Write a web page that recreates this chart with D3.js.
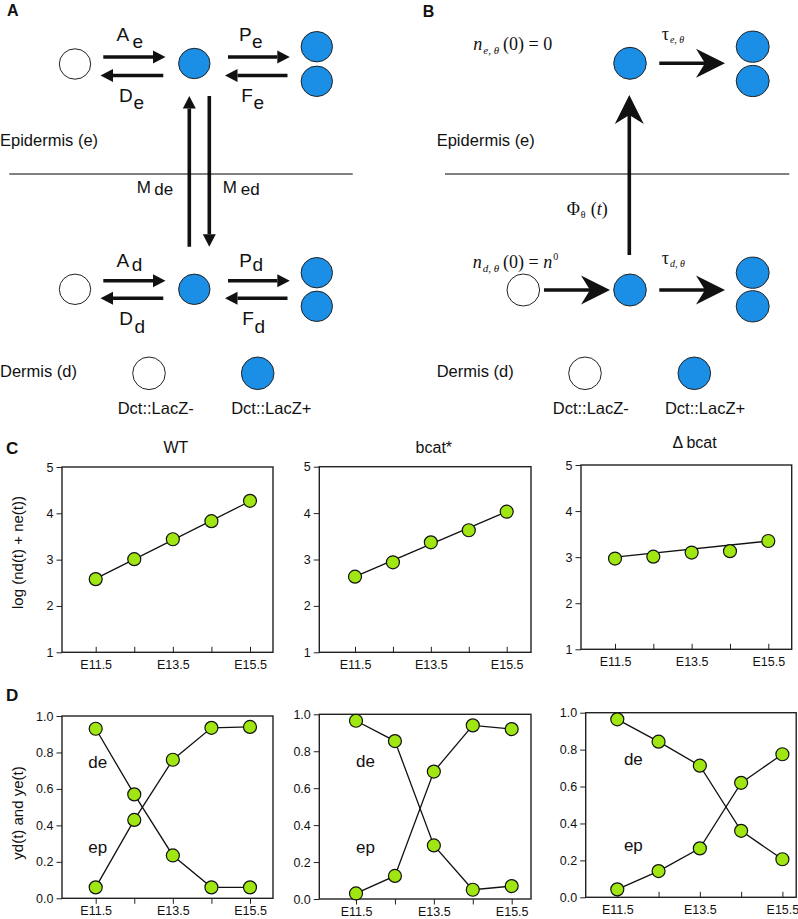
<!DOCTYPE html>
<html>
<head>
<meta charset="utf-8">
<script src="https://cdn.jsdelivr.net/npm/d3@7"></script>
<style>
  html, body { margin: 0; padding: 0; background: #fff; }
  svg { display: block; }
  text { font-family: "Liberation Sans", Arial, Helvetica, sans-serif; fill: #111; }
  .math { font-family: "Liberation Serif", "Times New Roman", serif; }
</style>
</head>
<body>
<svg id="fig" width="798" height="919"></svg>
<script>
// ---------------- DATA ----------------
const timepoints = ["E11.5", "E12.5", "E13.5", "E14.5", "E15.5"];
const xTickLabels = ["E11.5", "", "E13.5", "", "E15.5"];
const conditions = ["WT", "bcat*", "\u0394\u2009bcat"];

// Panel C: log (nd(t) + ne(t))
const totalWT    = [2.58, 3.01, 3.44, 3.83, 4.27];
const totalBcat  = [2.63, 2.94, 3.37, 3.63, 4.03];
const totalDbcat = [2.97, 3.01, 3.10, 3.13, 3.35];
// fitted straight lines (value at E11.5, value at E15.5)
const fitWT    = [2.59, 4.26];
const fitBcat  = [2.63, 4.03];
const fitDbcat = [3.00, 3.35];
const yTicksC = [1, 2, 3, 4, 5];

// Panel D: yd(t) and ye(t)
const deWT    = [0.93, 0.57, 0.235, 0.06, 0.06];
const epWT    = [0.06, 0.43, 0.76, 0.935, 0.94];
const deBcat  = [0.965, 0.855, 0.29, 0.05, 0.07];
const epBcat  = [0.03, 0.125, 0.69, 0.94, 0.92];
const deDbcat = [0.964, 0.843, 0.713, 0.36, 0.206];
const epDbcat = [0.043, 0.142, 0.265, 0.62, 0.775];
const yTicksD = [0, 0.2, 0.4, 0.6, 0.8, 1.0];
const seriesLabels = ["de", "ep"];

// ---------------- STYLE ----------------
const BLUE = "#1b8fe6";
const GREEN = "#9fe612";
const INK = "#111";
const SANS = "'Liberation Sans', Arial, Helvetica, sans-serif";

const svg = d3.select("#fig");

function txt(x, y, s, opt = {}) {
  const t = svg.append("text").attr("x", x).attr("y", y).text(s)
    .attr("font-size", opt.size || 16);
  if (opt.anchor) t.attr("text-anchor", opt.anchor);
  if (opt.weight) t.attr("font-weight", opt.weight);
  if (opt.cls) t.attr("class", opt.cls);
  if (opt.italic) t.attr("font-style", "italic");
  return t;
}

function cell(cx, cy, fill, rx = 15.7, ry = 15.2) {
  svg.append("ellipse").attr("cx", cx).attr("cy", cy).attr("rx", rx).attr("ry", ry)
    .attr("fill", fill).attr("stroke", "#222").attr("stroke-width", 1);
}

// simple arrow (panel A)
function arrowA(x1, y1, x2, y2) {
  const L = 12.5, W = 6.5;
  const ang = Math.atan2(y2 - y1, x2 - x1);
  const bx = x2 - L * Math.cos(ang), by = y2 - L * Math.sin(ang);
  svg.append("line").attr("x1", x1).attr("y1", y1).attr("x2", bx).attr("y2", by)
    .attr("stroke", INK).attr("stroke-width", 3.6);
  const px = -Math.sin(ang), py = Math.cos(ang);
  svg.append("path")
    .attr("d", `M${x2},${y2} L${bx + px * W},${by + py * W} L${bx - px * W},${by - py * W} Z`)
    .attr("fill", INK);
}

// stealth arrow (panel B)
function arrowB(x1, y1, x2, y2) {
  const L = 29, W = 14.5, N = 9;
  const ang = Math.atan2(y2 - y1, x2 - x1);
  const c = Math.cos(ang), s = Math.sin(ang);
  const px = -s, py = c;
  const bx = x2 - L * c, by = y2 - L * s;
  const nx = x2 - (L - N) * c, ny = y2 - (L - N) * s;
  svg.append("line").attr("x1", x1).attr("y1", y1).attr("x2", nx).attr("y2", ny)
    .attr("stroke", INK).attr("stroke-width", 3.6);
  svg.append("path")
    .attr("d", `M${x2},${y2} L${bx + px * W},${by + py * W} L${nx},${ny} L${bx - px * W},${by - py * W} Z`)
    .attr("fill", INK);
}

function hline(x1, x2, y) {
  svg.append("line").attr("x1", x1).attr("x2", x2).attr("y1", y).attr("y2", y)
    .attr("stroke", "#000").attr("stroke-width", 1);
}

// ---------------- PANEL A ----------------
txt(7, 16, "A", { size: 16, weight: "bold" });
// epidermis row
cell(75, 64, "#fff");
cell(194.3, 63.5, BLUE);
cell(316.8, 46.7, BLUE); cell(316.8, 81.3, BLUE);
arrowA(103.3, 57, 165.5, 57);
arrowA(163.3, 75.5, 100.5, 75.5);
arrowA(228, 57, 289.8, 57);
arrowA(287.5, 75.5, 225, 75.5);
txt(116.5, 40.7, "A", { size: 19 }); txt(132.5, 47.5, "e", { size: 19 });
txt(239, 40.7, "P", { size: 19 });   txt(252, 47.5, "e", { size: 19 });
txt(119, 101.7, "D", { size: 19 });  txt(133.5, 109.3, "e", { size: 19 });
txt(241.2, 101.7, "F", { size: 19 }); txt(253.5, 109.3, "e", { size: 19 });
// migration arrows
arrowA(189.3, 246.7, 189.3, 96);
arrowA(209.3, 96, 209.3, 246.7);
txt(0, 145.7, "Epidermis (e)", { size: 16.5 });
hline(9.3, 352.7, 174);
txt(136.7, 193.3, "M", { size: 17 }); txt(154.3, 194.5, "de", { size: 17 });
txt(222.7, 193.3, "M", { size: 17 }); txt(240.8, 194.5, "ed", { size: 17 });
// dermis row
cell(75, 289.3, "#fff");
cell(194.3, 289.3, BLUE);
cell(316.8, 272.7, BLUE); cell(316.8, 306.3, BLUE);
arrowA(103.3, 280.7, 165.5, 280.7);
arrowA(163.3, 298.3, 100.5, 298.3);
arrowA(228, 280.7, 289.8, 280.7);
arrowA(287.5, 298.3, 225, 298.3);
txt(116.5, 266.7, "A", { size: 19 }); txt(131.7, 270.7, "d", { size: 19 });
txt(239.3, 266.7, "P", { size: 19 }); txt(252.5, 270.7, "d", { size: 19 });
txt(119.3, 325, "D", { size: 19 });   txt(134.5, 333, "d", { size: 19 });
txt(242.2, 325, "F", { size: 19 });   txt(254.5, 333, "d", { size: 19 });
txt(0, 377.3, "Dermis (d)", { size: 16.5 });
cell(149, 373.3, "#fff", 16.3, 16.3);
cell(257.7, 373.3, BLUE, 16.3, 16.3);
txt(155.7, 413.5, "Dct::LacZ-", { size: 16.5, anchor: "middle" });
txt(271.3, 413.5, "Dct::LacZ+", { size: 16.5, anchor: "middle" });

// ---------------- PANEL B ----------------
txt(422.7, 16.7, "B", { size: 16, weight: "bold" });
// top row
{
  const t = txt(473.3, 50, "", { size: 18, cls: "math" });
  t.append("tspan").attr("font-style", "italic").text("n");
  t.append("tspan").attr("font-style", "italic").attr("font-size", 11).attr("dy", 3.5).attr("dx", 1).text("e, \u03b8");
  t.append("tspan").attr("dy", -3.5).attr("dx", 4).text("(0) = 0");
}
cell(630, 63.3, BLUE, 16.3, 16);
arrowB(659.3, 63.3, 725, 63.3);
{
  const t = txt(661.7, 40, "", { size: 18, cls: "math" });
  t.append("tspan").text("\u03c4");
  t.append("tspan").attr("font-style", "italic").attr("font-size", 10).attr("dy", 3).attr("dx", 1).text("e, \u03b8");
}
cell(752.7, 46.7, BLUE, 16.5, 15.6); cell(752.7, 81, BLUE, 16.5, 15.6);
arrowB(629.3, 255, 629.3, 95);
txt(436.7, 145.7, "Epidermis (e)", { size: 16.5 });
hline(445, 789.3, 174);
{
  const t = txt(566.7, 215, "", { size: 18, cls: "math" });
  t.append("tspan").text("\u03a6");
  t.append("tspan").attr("font-size", 10).attr("dy", 2.5).attr("dx", 1).text("\u03b8");
  t.append("tspan").attr("dy", -2.5).attr("dx", 5).text("(");
  t.append("tspan").attr("font-style", "italic").text("t");
  t.append("tspan").text(")");
}
// bottom row
{
  const t = txt(472.7, 268, "", { size: 18, cls: "math" });
  t.append("tspan").attr("font-style", "italic").text("n");
  t.append("tspan").attr("font-style", "italic").attr("font-size", 11).attr("dy", 3.5).attr("dx", 1).text("d, \u03b8");
  t.append("tspan").attr("dy", -3.5).attr("dx", 4).text("(0) = ");
  t.append("tspan").attr("font-style", "italic").text("n");
  t.append("tspan").attr("font-size", 10).attr("dy", -8).attr("dx", 1).text("0");
}
cell(523.3, 290, "#fff", 16.3, 16);
arrowB(544, 290, 610, 290);
cell(630, 290, BLUE, 16.3, 16);
arrowB(659.3, 290, 725, 290);
{
  const t = txt(661.7, 264, "", { size: 18, cls: "math" });
  t.append("tspan").text("\u03c4");
  t.append("tspan").attr("font-style", "italic").attr("font-size", 10).attr("dy", 3).attr("dx", 1).text("d, \u03b8");
}
cell(752.7, 272.7, BLUE, 16.5, 15.6); cell(752.7, 306.3, BLUE, 16.5, 15.6);
txt(436.7, 377.3, "Dermis (d)", { size: 16.5 });
cell(585, 373.3, "#fff", 16.3, 16.3);
cell(694.3, 373.3, BLUE, 16.3, 16.3);
txt(590.8, 413.5, "Dct::LacZ-", { size: 16.5, anchor: "middle" });
txt(705, 413.5, "Dct::LacZ+", { size: 16.5, anchor: "middle" });

// ---------------- PANELS C & D (charts) ----------------
function plot(box, yDomain, yTicks, yFmt, xTickIn) {
  const g = svg.append("g");
  const x = d3.scaleLinear().domain([1, timepoints.length])
    .range([box.x + box.padL, box.x + box.w - box.padR]);
  const y = d3.scaleLinear().domain(yDomain).range([box.y + box.h, box.y]);

  const xa = d3.axisBottom(x).tickValues(d3.range(1, timepoints.length + 1))
    .tickFormat((d, i) => xTickLabels[i])
    .tickSizeInner(xTickIn ? -5.5 : 5.5).tickSizeOuter(0)
    .tickPadding(xTickIn ? 7.5 : 2.5);
  const gx = g.append("g").attr("transform", `translate(0,${box.y + box.h})`).call(xa);
  gx.select(".domain").remove();
  gx.selectAll("text").attr("font-size", 12.5).attr("font-family", SANS).attr("fill", INK);
  gx.selectAll("line").attr("stroke", "#222").attr("stroke-width", 1);

  const ya = d3.axisLeft(y).tickValues(yTicks).tickFormat(d3.format(yFmt))
    .tickSizeInner(5.5).tickSizeOuter(0).tickPadding(3);
  const gy = g.append("g").attr("transform", `translate(${box.x},0)`).call(ya);
  gy.select(".domain").remove();
  gy.selectAll("text").attr("font-size", 12.5).attr("font-family", SANS).attr("fill", INK);
  gy.selectAll("line").attr("stroke", "#222").attr("stroke-width", 1);

  g.append("rect").attr("x", box.x).attr("y", box.y).attr("width", box.w).attr("height", box.h)
    .attr("fill", "none").attr("stroke", "#222").attr("stroke-width", 1.4);
  return { g, x, y };
}

function dots(p, vals) {
  p.g.append("g").selectAll("circle").data(vals).join("circle")
    .attr("cx", (d, i) => p.x(i + 1)).attr("cy", d => p.y(d)).attr("r", 6.5)
    .attr("fill", GREEN).attr("stroke", INK).attr("stroke-width", 1.2);
}

// Panel C
txt(6, 454, "C", { size: 17, weight: "bold" });
const boxesC = [
  { x: 62, y: 467, w: 211, h: 185.3, padL: 33.7, padR: 23 },
  { x: 319.3, y: 466.7, w: 211.7, h: 185.6, padL: 35.7, padR: 24.3 },
  { x: 581, y: 465, w: 210.7, h: 184.3, padL: 34, padR: 23.4 }
];
const totalsC = [totalWT, totalBcat, totalDbcat];
const fitsC = [fitWT, fitBcat, fitDbcat];
const titleY = [452.7, 452.7, 448.3];
boxesC.forEach((b, k) => {
  const p = plot(b, [1, 5], yTicksC, "d", true);
  p.g.append("line")
    .attr("x1", p.x(1)).attr("y1", p.y(fitsC[k][0]))
    .attr("x2", p.x(timepoints.length)).attr("y2", p.y(fitsC[k][1]))
    .attr("stroke", INK).attr("stroke-width", 1.3);
  dots(p, totalsC[k]);
  txt(b.x + b.padL + (b.w - b.padL - b.padR) / 2 + 3, titleY[k], conditions[k], { size: 16, anchor: "middle" });
});
svg.append("text").attr("transform", "translate(23,552.5) rotate(-90)")
  .attr("text-anchor", "middle").attr("font-size", 15).text("log (nd(t) + ne(t))");

// Panel D
txt(6, 701, "D", { size: 17, weight: "bold" });
const boxesD = [
  { x: 62, y: 716, w: 211, h: 182.3, padL: 33.7, padR: 23, tin: false, lx: 0.81 },
  { x: 319.3, y: 714.3, w: 211.7, h: 184.7, padL: 36.7, padR: 19.3, tin: false, lx: 1.0 },
  { x: 585.7, y: 712.7, w: 210.5, h: 184.6, padL: 31.6, padR: 13.8, tin: true, lx: 1.16 }
];
const deD = [deWT, deBcat, deDbcat];
const epD = [epWT, epBcat, epDbcat];
boxesD.forEach((b, k) => {
  const p = plot(b, [0, 1], yTicksD, ".1f", b.tin);
  const line = d3.line().x((d, i) => p.x(i + 1)).y(d => p.y(d));
  [deD[k], epD[k]].forEach(s => {
    p.g.append("path").attr("d", line(s)).attr("fill", "none")
      .attr("stroke", INK).attr("stroke-width", 1.3);
  });
  dots(p, deD[k]);
  dots(p, epD[k]);
  p.g.append("text").attr("x", p.x(b.lx)).attr("y", p.y(0.715)).attr("font-size", 17).text(seriesLabels[0]);
  p.g.append("text").attr("x", p.x(b.lx)).attr("y", p.y(0.25)).attr("font-size", 17).text(seriesLabels[1]);
});
svg.append("text").attr("transform", "translate(22.5,813) rotate(-90)")
  .attr("text-anchor", "middle").attr("font-size", 15).text("yd(t) and ye(t)");
</script>
</body>
</html>
